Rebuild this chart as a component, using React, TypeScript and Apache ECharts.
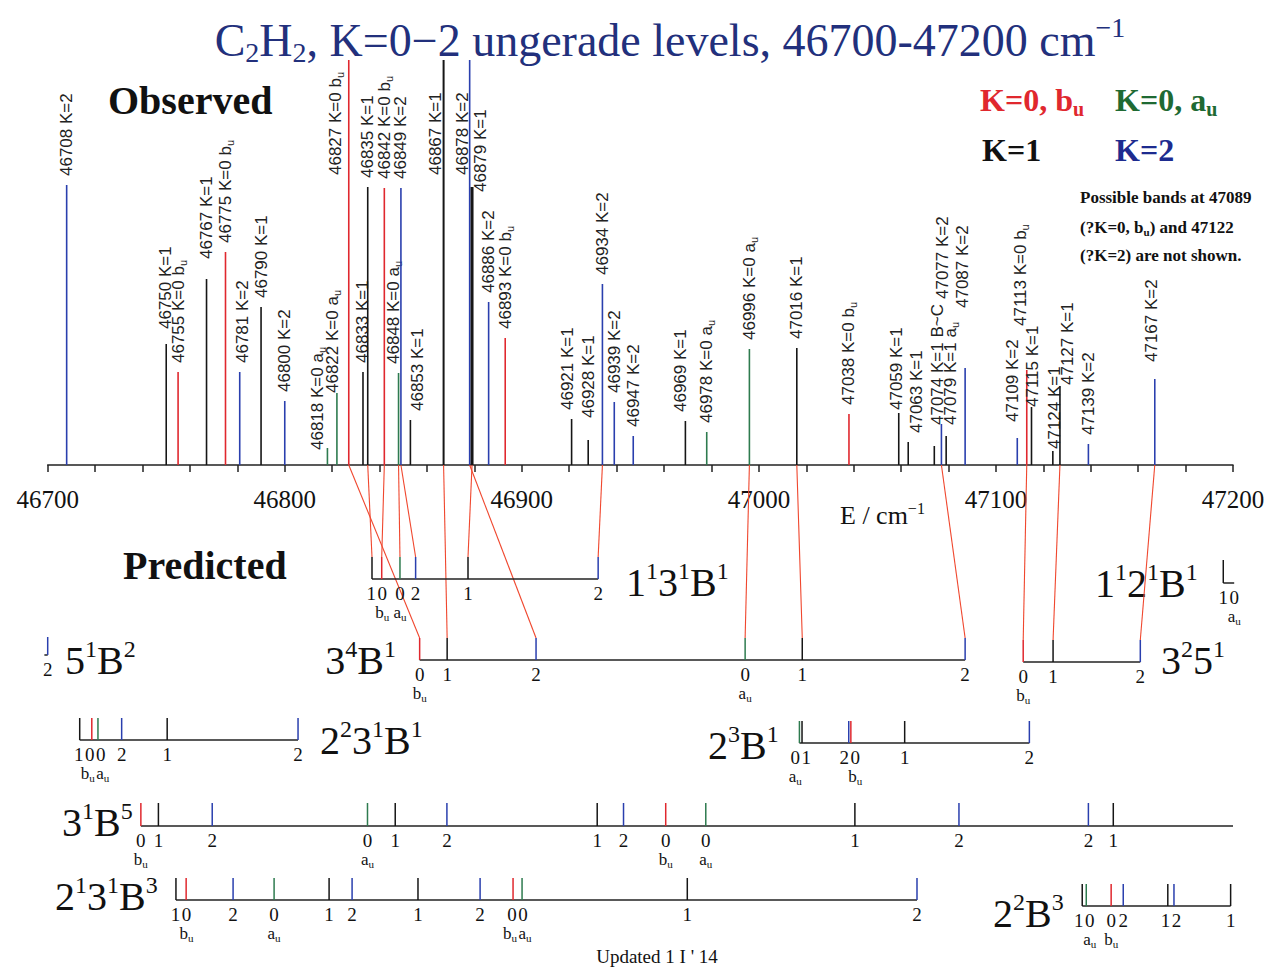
import React, { useEffect, useRef } from 'react';
import * as echarts from 'echarts';

const SERIF = '"Liberation Serif", "Times New Roman", serif';
const SANS = '"Liberation Sans", Arial, sans-serif';

// Energy axis (cm^-1)
const X_MIN = 46700;
const X_MAX = 47200;
const X_STEP = 20;
const xTickLabels = [46700, 46800, 46900, 47000, 47100, 47200];

// Observed K = 0-2 ungerade levels
const obsEnergy = [
  46708, 46750, 46755, 46767, 46775, 46781, 46790, 46800, 46818, 46822,
  46827, 46833, 46835, 46842, 46848, 46849, 46853, 46867, 46878, 46879,
  46886, 46893, 46921, 46928, 46934, 46939, 46947, 46969, 46978, 46996,
  47016, 47038, 47059, 47063, 47074, 47077, 47079, 47087, 47109, 47113,
  47115, 47124, 47127, 47139, 47167,
];
const obsK = [
  2, 1, 0, 1, 0, 2, 1, 2, 0, 0,
  0, 1, 1, 0, 0, 2, 1, 1, 2, 1,
  2, 0, 1, 1, 2, 2, 2, 1, 0, 0,
  1, 0, 1, 1, 1, 2, 1, 2, 2, 0,
  1, 1, 1, 2, 2,
];
// symmetry of the level: 'b' = b_u, 'a' = a_u
const obsSym = [
  '', '', 'b', '', 'b', '', '', '', 'a', 'a',
  'b', '', '', 'b', 'a', '', '', '', '', '',
  '', 'b', '', '', '', '', '', '', 'a', 'a',
  '', 'b', '', '', '', '', 'a', '', '', 'b',
  '', '', '', '', '',
];
// relative intensity (arbitrary units; 405 = off scale)
const obsIntensity = [
  280, 121, 93, 186, 213, 93, 158, 64, 17, 72,
  405, 93, 278, 277, 92, 277, 45, 405, 405, 278,
  163, 127, 46, 25, 181, 63, 29, 44, 33, 116,
  117, 51, 52, 23, 19, 41, 29, 97, 27, 95,
  58, 14, 79, 21, 86,
];
const obsNote: Record<number, string> = { 47074: 'B~C' };

// Predicted levels: [energy, K, symmetry]
type Level = [number, number, string];
const lv13B1: Level[] = [[46836.8, 1, ''], [46840.9, 0, 'b'], [46848.6, 0, 'a'], [46855.2, 2, ''], [46877.3, 1, ''], [46932.2, 2, '']];
const lv34B1: Level[] = [[46856.9, 0, 'b'], [46868.5, 1, ''], [46906.0, 2, ''], [46994.2, 0, 'a'], [47018.3, 1, ''], [47087.0, 2, '']];
const lv3251: Level[] = [[47111.5, 0, 'b'], [47124.1, 1, ''], [47160.9, 2, '']];
const lv12B1: Level[] = [[47195.9, 1, ''], [47200.5, 0, 'a']];
const lv51B2: Level[] = [[46700.0, 2, '']];
const lv2231B1: Level[] = [[46713.5, 1, ''], [46718.6, 0, 'b'], [46721.2, 0, 'a'], [46731.2, 2, ''], [46750.4, 1, ''], [46805.6, 2, '']];
const lv23B1: Level[] = [[47017.1, 0, 'a'], [47018.2, 1, ''], [47037.9, 2, ''], [47038.8, 0, 'b'], [47061.5, 1, ''], [47114.1, 2, '']];
const lv31B5: Level[] = [
  [46739.3, 0, 'b'], [46746.7, 1, ''], [46769.4, 2, ''], [46834.9, 0, 'a'], [46846.6, 1, ''], [46868.4, 2, ''],
  [46931.8, 1, ''], [46942.9, 2, ''], [46960.7, 0, 'b'], [46977.6, 0, 'a'], [47040.5, 1, ''], [47084.4, 2, ''],
  [47139.0, 2, ''], [47149.5, 1, ''],
];
const lv2131B3: Level[] = [
  [46754.1, 1, ''], [46758.4, 0, 'b'], [46778.2, 2, ''], [46795.5, 0, 'a'], [46818.7, 1, ''], [46828.4, 2, ''],
  [46856.2, 1, ''], [46882.4, 2, ''], [46896.3, 0, 'b'], [46900.1, 0, 'a'], [46969.8, 1, ''], [47066.7, 2, ''],
];
const lv22B3: Level[] = [[47136.4, 1, ''], [47138.1, 0, 'a'], [47148.6, 0, 'b'], [47153.7, 2, ''], [47172.5, 1, ''], [47175.1, 2, ''], [47199.0, 1, '']];

// Assignments: [observed energy, predicted energy]
const link13B1 = [[46835, 46836.8], [46842, 46840.9], [46848, 46848.6], [46849, 46855.2], [46879, 46877.3], [46934, 46932.2]];
const link34B1 = [[46827, 46856.9], [46867, 46868.5], [46878, 46906.0], [46996, 46994.2], [47016, 47018.3], [47077, 47087.0]];
const link3251 = [[47113, 47111.5], [47127, 47124.1], [47167, 47160.9]];

// ---- styling / layout ----
const RED = '#e0282e';
const GREEN = '#2e7b4f';
const BLACK = '#161616';
const BLUE = '#2a3fae';
const LINK = '#f0472e';

const levelColor = (k: number, sym: string) =>
  k === 0 ? (sym === 'a' ? GREEN : RED) : k === 1 ? BLACK : BLUE;

// ladder rows: vertical base (units below the energy axis) and tick height
const ladders: { levels: Level[]; base: number; tick?: number; from?: number; to?: number; links?: number[][] }[] = [
  { levels: lv13B1, base: -114, links: link13B1 },
  { levels: lv34B1, base: -195, links: link34B1 },
  { levels: lv3251, base: -197, links: link3251 },
  { levels: lv12B1, base: -118, tick: 23 },
  { levels: lv51B2, base: -190, tick: 18, from: 46698.6 },
  { levels: lv2231B1, base: -275 },
  { levels: lv23B1, base: -278 },
  { levels: lv31B5, base: -361, tick: 23, to: 47200 },
  { levels: lv2131B3, base: -435 },
  { levels: lv22B3, base: -441 },
];
const TICK = 22;

// label placement for crowded sticks: [dx px, label foot height]
const labelPlace: Record<number, [number, number?]> = {
  46750: [-1, 136], 46767: [0, 206], 46781: [3], 46818: [-10, 15], 46822: [-4, 72],
  46827: [-13, 290], 46848: [-5], 46853: [7], 46867: [-8, 290], 46878: [-7, 290],
  46879: [8, 273], 46921: [-4], 46928: [0, 47], 46969: [-5], 47059: [-2, 55],
  47063: [8], 47074: [3, 40], 47077: [1, 166], 47079: [4, 40], 47087: [-3, 157],
  47109: [-5, 43], 47113: [-6, 139], 47115: [1, 58], 47124: [2, 16], 47127: [8, 80], 47167: [-3, 103],
};
const stickWidth: Record<number, number> = { 46879: 3, 46867: 2 };

const subRich = (size: number, fill: string, family: string, weight = 'normal') => ({
  t: { fontSize: size, fontFamily: family, fontWeight: weight, fill, lineHeight: Math.round(size * 1.2) },
  u: { fontSize: Math.round(size * 0.62), fontFamily: family, fontWeight: weight, fill, lineHeight: Math.round(size * 0.62), verticalAlign: 'bottom' },
});
const supRich = (size: number, fill: string, weight = 'normal') => ({
  m: { fontSize: size, fontFamily: SERIF, fontWeight: weight, fill, lineHeight: Math.round(size * 1.15) },
  p: { fontSize: Math.round(size * 0.6), fontFamily: SERIF, fontWeight: weight, fill, lineHeight: Math.round(size * 0.7), verticalAlign: 'top' },
  s: { fontSize: Math.round(size * 0.6), fontFamily: SERIF, fontWeight: weight, fill, lineHeight: Math.round(size * 0.6), verticalAlign: 'bottom' },
});

function spreadLabels(xs: number[], gap: number): number[] {
  const out = xs.slice();
  for (let it = 0; it < 80; it++) {
    let moved = false;
    for (let i = 1; i < out.length; i++) {
      const d = out[i] - out[i - 1];
      if (d < gap - 0.01) {
        const push = (gap - d) / 2;
        out[i - 1] -= push;
        out[i] += push;
        moved = true;
      }
    }
    if (!moved) break;
  }
  return out;
}

function obsLabel(i: number): string {
  const note = obsNote[obsEnergy[i]];
  const t = `{t|${obsEnergy[i]} K=${obsK[i]}${note ? ' ' + note : ''}`;
  if (obsSym[i]) return `${t} ${obsSym[i]}}{u|u}`;
  return t + '}';
}

const nameText = (x: number, y: number, text: string, align = 'left') => ({
  type: 'text', x, y,
  style: { text, rich: supRich(40, '#111'), align, verticalAlign: 'middle' },
});

export default function App() {
  const ref = useRef<HTMLDivElement>(null);

  useEffect(() => {
    if (!ref.current) return;
    const chart = echarts.init(ref.current, undefined, { renderer: 'svg' });

    const linkData: number[][] = [];
    ladders.forEach((r) => {
      (r.links || []).forEach(([o, p]) => linkData.push([o, p, r.base + (r.tick ?? TICK)]));
    });

    const option: any = {
      animation: false,
      backgroundColor: '#ffffff',
      grid: [
        // observed spectrum
        { left: 47.7, right: 34, top: 60, height: 405, containLabel: false, outerBoundsMode: 'none' },
        // predicted ladders
        { left: 47.7, right: 34, top: 465, height: 500, containLabel: false, outerBoundsMode: 'none' },
      ],
      xAxis: [
        {
          gridIndex: 0, type: 'value', min: X_MIN, max: X_MAX, interval: X_STEP, position: 'bottom',
          axisLine: { onZero: false, lineStyle: { color: '#222', width: 1.5 } },
          axisTick: { show: true, length: 7, lineStyle: { color: '#222', width: 1.5 } },
          splitLine: { show: false },
          axisLabel: {
            margin: 22, fontSize: 25, fontFamily: SERIF, color: '#111',
            formatter: (v: number) => (xTickLabels.includes(v) ? String(v) : ''),
          },
        },
        { gridIndex: 1, type: 'value', min: X_MIN, max: X_MAX, show: false },
      ],
      yAxis: [
        { gridIndex: 0, type: 'value', min: 0, max: 405, show: false },
        { gridIndex: 1, type: 'value', min: -500, max: 0, show: false },
      ],
      series: [
        {
          // assignment links from observed to predicted levels
          type: 'custom', coordinateSystem: 'cartesian2d', xAxisIndex: 1, yAxisIndex: 1, clip: false, z: 1,
          data: linkData,
          renderItem: (_p: any, api: any) => {
            const a = api.coord([api.value(0), 0]);
            const b = api.coord([api.value(1), api.value(2)]);
            return { type: 'line', shape: { x1: a[0], y1: a[1], x2: b[0], y2: b[1] }, style: { stroke: LINK, lineWidth: 1.1 } };
          },
        },
        {
          // predicted ladders
          type: 'custom', coordinateSystem: 'cartesian2d', xAxisIndex: 1, yAxisIndex: 1, clip: false, z: 2,
          data: ladders.map((r, i) => [r.levels[0][0], r.base, i]),
          renderItem: (_p: any, api: any) => {
            const r = ladders[api.value(2) as number];
            const th = r.tick ?? TICK;
            const es = r.levels.map((l) => l[0]);
            const from = r.from ?? Math.min(...es);
            const to = r.to ?? Math.max(...es);
            const a = api.coord([from, r.base]);
            const b = api.coord([to, r.base]);
            const yTop = api.coord([from, r.base + th])[1];
            const yb = a[1];
            const children: any[] = [
              { type: 'line', shape: { x1: a[0], y1: yb, x2: b[0], y2: yb }, style: { stroke: '#222', lineWidth: 1.5 } },
            ];
            const xs = r.levels.map((l) => api.coord([l[0], r.base])[0]);
            r.levels.forEach((l, i) => {
              if (l[0] < X_MIN || l[0] > X_MAX) return;
              children.push({
                type: 'line', shape: { x1: xs[i], y1: yb, x2: xs[i], y2: yTop },
                style: { stroke: levelColor(l[1], l[2]), lineWidth: 1.5 },
              });
            });
            const lx = spreadLabels(xs, 11);
            r.levels.forEach((l, i) => {
              children.push({
                type: 'text', x: lx[i], y: yb + 14,
                style: { text: String(l[1]), fontSize: 19, fontFamily: SERIF, fill: '#111', align: 'center', verticalAlign: 'middle' },
              });
            });
            // symmetry tags under the K = 0 levels
            const symIdx = r.levels.map((l, i) => (l[2] ? i : -1)).filter((i) => i >= 0);
            const sx = spreadLabels(symIdx.map((i) => lx[i]), 15);
            symIdx.forEach((i, j) => {
              children.push({
                type: 'text', x: sx[j], y: yb + 33,
                style: { text: `{t|${r.levels[i][2]}}{u|u}`, rich: subRich(17, '#111', SERIF), align: 'center', verticalAlign: 'middle' },
              });
            });
            return { type: 'group', children };
          },
        },
        {
          // observed sticks with rotated labels
          type: 'custom', coordinateSystem: 'cartesian2d', xAxisIndex: 0, yAxisIndex: 0, clip: false, z: 3,
          data: obsEnergy.map((e, i) => [e, obsIntensity[i], i]),
          renderItem: (_p: any, api: any) => {
            const i = api.value(2) as number;
            const e = obsEnergy[i];
            const p0 = api.coord([e, 0]);
            const p1 = api.coord([e, api.value(1)]);
            const place = labelPlace[e] || [0];
            const foot = place[1] ?? obsIntensity[i] + 9;
            const fy = api.coord([e, foot])[1];
            return {
              type: 'group',
              children: [
                {
                  type: 'line', shape: { x1: p0[0], y1: p0[1], x2: p1[0], y2: p1[1] },
                  style: { stroke: levelColor(obsK[i], obsSym[i]), lineWidth: stickWidth[e] ?? 1.6 },
                },
                {
                  type: 'text', x: p0[0] + place[0], y: fy, rotation: Math.PI / 2,
                  style: {
                    text: obsLabel(i), rich: subRich(17, '#222', SANS),
                    fontSize: 17, fontFamily: SANS, fill: '#222', align: 'left', verticalAlign: 'middle',
                  },
                },
              ],
            };
          },
        },
      ],
      graphic: {
        elements: [
          {
            type: 'text', x: 670, y: 40,
            style: {
              text: '{m|C}{s|2}{m|H}{s|2}{m|, K=0\u22122 ungerade levels, 46700-47200 cm}{p|\u22121}',
              rich: supRich(46, '#22307c'), align: 'center', verticalAlign: 'middle',
            },
          },
          { type: 'text', x: 108, y: 100, style: { text: 'Observed', fontSize: 40, fontWeight: 'bold', fontFamily: SERIF, fill: '#111', align: 'left', verticalAlign: 'middle' } },
          { type: 'text', x: 123, y: 565, style: { text: 'Predicted', fontSize: 40, fontWeight: 'bold', fontFamily: SERIF, fill: '#111', align: 'left', verticalAlign: 'middle' } },
          { type: 'text', x: 980, y: 100, style: { text: '{t|K=0, b}{u|u}', rich: subRich(32, RED, SERIF, 'bold'), align: 'left', verticalAlign: 'middle' } },
          { type: 'text', x: 1115, y: 100, style: { text: '{t|K=0, a}{u|u}', rich: subRich(32, '#1f6a33', SERIF, 'bold'), align: 'left', verticalAlign: 'middle' } },
          { type: 'text', x: 982, y: 150, style: { text: 'K=1', fontSize: 32, fontWeight: 'bold', fontFamily: SERIF, fill: '#111', align: 'left', verticalAlign: 'middle' } },
          { type: 'text', x: 1115, y: 150, style: { text: 'K=2', fontSize: 32, fontWeight: 'bold', fontFamily: SERIF, fill: '#1d2b8f', align: 'left', verticalAlign: 'middle' } },
          { type: 'text', x: 1080, y: 197, style: { text: 'Possible bands at 47089', fontSize: 17, fontWeight: 'bold', fontFamily: SERIF, fill: '#111', align: 'left', verticalAlign: 'middle' } },
          { type: 'text', x: 1080, y: 227, style: { text: '{t|(?K=0, b}{u|u}{t|) and 47122}', rich: subRich(17, '#111', SERIF, 'bold'), align: 'left', verticalAlign: 'middle' } },
          { type: 'text', x: 1080, y: 255, style: { text: '(?K=2) are not shown.', fontSize: 17, fontWeight: 'bold', fontFamily: SERIF, fill: '#111', align: 'left', verticalAlign: 'middle' } },
          { type: 'text', x: 840, y: 515, style: { text: '{m|E / cm}{p|\u22121}', rich: supRich(26, '#111'), align: 'left', verticalAlign: 'middle' } },
          nameText(626, 582, '{m|1}{p|1}{m|3}{p|1}{m|B}{p|1}'),
          nameText(396, 660, '{m|3}{p|4}{m|B}{p|1}', 'right'),
          nameText(1161, 660, '{m|3}{p|2}{m|5}{p|1}'),
          nameText(1095, 583, '{m|1}{p|1}{m|2}{p|1}{m|B}{p|1}'),
          nameText(65, 660, '{m|5}{p|1}{m|B}{p|2}'),
          nameText(320, 740, '{m|2}{p|2}{m|3}{p|1}{m|B}{p|1}'),
          nameText(708, 745, '{m|2}{p|3}{m|B}{p|1}'),
          nameText(62, 822, '{m|3}{p|1}{m|B}{p|5}'),
          nameText(55, 896, '{m|2}{p|1}{m|3}{p|1}{m|B}{p|3}'),
          nameText(993, 913, '{m|2}{p|2}{m|B}{p|3}'),
          { type: 'text', x: 657, y: 956, style: { text: "Updated 1 I ' 14", fontSize: 19, fontFamily: SERIF, fill: '#111', align: 'center', verticalAlign: 'middle' } },
        ],
      },
    };

    chart.setOption(option);
    return () => chart.dispose();
  }, []);

  return (
    <div
      ref={ref}
      style={{ position: 'fixed', left: 0, top: 0, width: 1267, height: 967, background: '#fff' }}
    />
  );
}
